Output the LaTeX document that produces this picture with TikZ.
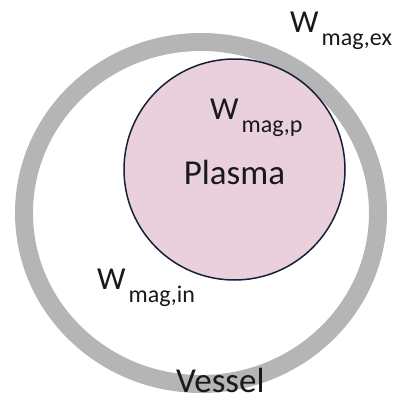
\documentclass[tikz,border=0pt]{standalone}
\usepackage{fontspec}
\setmainfont{Carlito}
\definecolor{ringgray}{RGB}{181,181,181}
\definecolor{plasmapink}{RGB}{233,208,220}
\definecolor{edgenavy}{RGB}{22,32,56}
\newcommand{\magsub}[1]{W\kern3pt\raisebox{-13pt}{\fontsize{24}{24}\selectfont #1}}
\tikzset{
  vesselring/.style={draw=ringgray, line width=18pt},
  plasmadisk/.style={circle, draw=edgenavy, fill=plasmapink, line width=1.5pt, inner sep=0pt, minimum size=221pt},
  lbl/.style={inner sep=0pt, text=black!90, font=\fontsize{32}{38}\selectfont},
  biglbl/.style={inner sep=0pt, text=black!90, font=\fontsize{35}{42}\selectfont}
}
\begin{document}
\begin{tikzpicture}[x=1pt,y=-1pt]
\useasboundingbox (0,0) rectangle (394,402);
\draw[vesselring] (201,213) ellipse [x radius=177, y radius=171];
\node[plasmadisk] (plasma) at (234.5,169.5) {};
\node[biglbl, anchor=base] (plasmatext) at (234.5,184) {Plasma};
\node[lbl, anchor=base west] (wp) at (210,119) {\magsub{mag,p}};
\node[lbl, anchor=base west] (win) at (97,289) {\magsub{mag,in}};
\node[lbl, anchor=base west] (wex) at (290,32) {\magsub{mag,ex}};
\node[biglbl, anchor=base west] (vessel) at (176,392) {Vessel};
\end{tikzpicture}
\end{document}
